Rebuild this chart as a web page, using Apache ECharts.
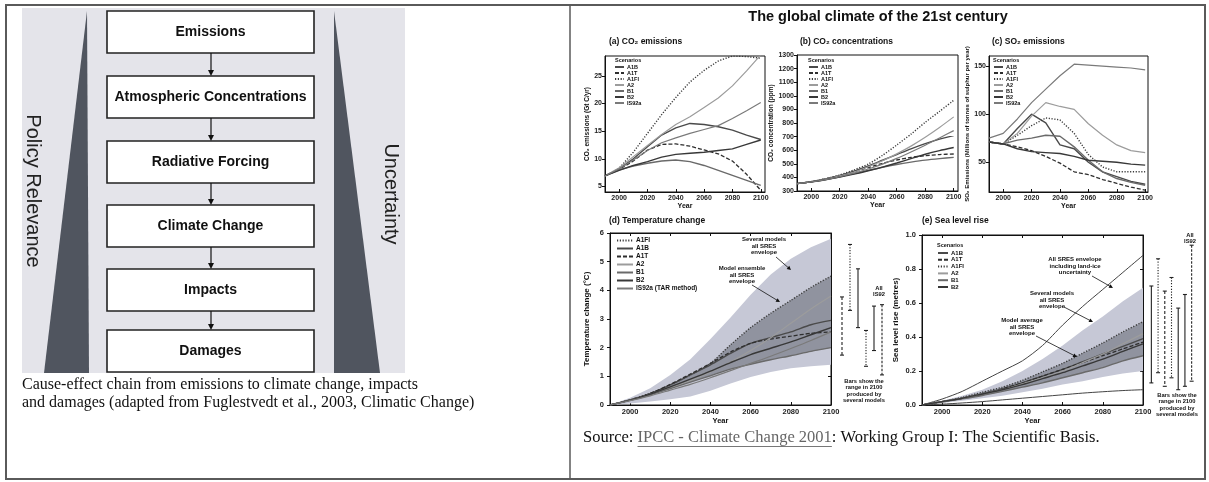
<!DOCTYPE html>
<html>
<head>
<meta charset="utf-8">
<script src="https://cdn.jsdelivr.net/npm/echarts@6/dist/echarts.min.js"></script>
<style>
  html, body { margin: 0; padding: 0; background: #fff; }
  #main { width: 1209px; height: 482px; }
</style>
</head>
<body>
<div id="main"></div>
<script>
// ---- data ----
const years = [1990, 2000, 2010, 2020, 2030, 2040, 2050, 2060, 2070, 2080, 2090, 2100];
const yearTicks = [2000, 2020, 2040, 2060, 2080, 2100];

// (a) CO2 emissions, Gt C/yr
const emA1B   = [6.9, 8.2, 10.0, 12.2, 14.3, 15.6, 16.4, 16.2, 15.8, 15.2, 14.3, 13.5];
const emA1T   = [6.9, 8.1, 9.6, 11.6, 12.6, 12.7, 12.3, 11.6, 10.9, 9.6, 7.2, 4.3];
const emA1FI  = [6.9, 8.3, 11.2, 14.6, 18.0, 21.1, 23.9, 26.0, 27.7, 28.6, 28.5, 28.2];
const emA2    = [6.9, 8.4, 10.4, 12.4, 14.4, 16.2, 17.6, 19.3, 21.0, 23.2, 25.9, 28.8];
const emB1    = [6.9, 8.0, 8.7, 9.2, 9.6, 9.8, 9.5, 8.8, 7.9, 7.0, 6.1, 5.2];
const emB2    = [6.9, 7.9, 8.8, 9.5, 10.3, 10.8, 11.0, 11.2, 11.5, 11.8, 12.6, 13.4];
const emIS92a = [6.9, 8.2, 9.8, 11.5, 12.9, 13.8, 14.6, 15.3, 16.0, 17.3, 18.7, 20.2];
const emTicks = [5, 10, 15, 20, 25];

// (b) CO2 concentrations, ppm
const ppmA1B   = [354, 368, 388, 414, 446, 484, 526, 568, 610, 648, 681, 707];
const ppmA1T   = [354, 368, 388, 412, 441, 472, 503, 528, 547, 560, 568, 572];
const ppmA1FI  = [354, 369, 390, 418, 455, 498, 562, 638, 718, 805, 885, 967];
const ppmA2    = [354, 368, 387, 411, 440, 478, 522, 573, 630, 695, 767, 845];
const ppmB1    = [354, 367, 384, 405, 428, 452, 475, 495, 512, 527, 538, 547];
const ppmB2    = [354, 367, 383, 402, 424, 449, 476, 506, 538, 570, 597, 620];
const ppmIS92a = [354, 367, 384, 405, 431, 462, 498, 540, 587, 637, 690, 744];
const ppmTicks = [300, 400, 500, 600, 700, 800, 900, 1000, 1100, 1200, 1300];

// (c) SO2 emissions, millions of tonnes of sulphur per year
const soA1B   = [71, 69, 85, 100, 91, 68, 64, 50, 40, 35, 30, 27];
const soA1T   = [71, 69, 66, 62, 56, 49, 40, 37, 32, 28, 24, 21];
const soA1FI  = [71, 69, 78, 88, 96, 94, 80, 58, 45, 40, 40, 40];
const soA2    = [71, 69, 80, 98, 112, 108, 105, 90, 78, 68, 62, 60];
const soB1    = [71, 69, 73, 75, 78, 77, 66, 52, 40, 33, 29, 26];
const soB2    = [71, 69, 64, 61, 60, 59, 56, 52, 51, 50, 48, 47];
const soIS92a = [75, 80, 95, 112, 126, 140, 152, 151, 150, 149, 148, 146];
const soTicks = [50, 100, 150];

// (d) temperature change, deg C
const tA1FI  = [0, 0.18, 0.4, 0.7, 1.05, 1.45, 2.1, 2.7, 3.2, 3.65, 4.1, 4.5];
const tA1B   = [0, 0.18, 0.4, 0.7, 1.05, 1.4, 1.8, 2.15, 2.35, 2.55, 2.8, 2.95];
const tA1T   = [0, 0.18, 0.4, 0.72, 1.08, 1.45, 1.85, 2.15, 2.3, 2.4, 2.5, 2.55];
const tA2    = [0, 0.17, 0.37, 0.6, 0.85, 1.15, 1.5, 1.9, 2.35, 2.85, 3.35, 3.8];
const tB1    = [0, 0.16, 0.35, 0.57, 0.8, 1.02, 1.25, 1.42, 1.58, 1.72, 1.87, 2.0];
const tB2    = [0, 0.17, 0.38, 0.63, 0.9, 1.18, 1.48, 1.76, 1.98, 2.2, 2.45, 2.7];
const tIS92a = [0, 0.15, 0.32, 0.52, 0.72, 0.95, 1.2, 1.45, 1.7, 1.97, 2.25, 2.55];
const tModelsHigh = [0, 0.25, 0.58, 1.05, 1.6, 2.3, 3.05, 3.85, 4.55, 5.1, 5.5, 5.8];
const tModelsLow  = [0, 0.05, 0.12, 0.2, 0.3, 0.5, 0.75, 0.98, 1.15, 1.28, 1.35, 1.4];
const tTicks = [0, 1, 2, 3, 4, 5, 6];
const tBarLow  = [1.74, 3.3, 2.7, 1.35, 1.9, 1.05];
const tBarHigh = [3.77, 5.6, 4.75, 2.6, 3.45, 3.5];

// (e) sea level rise, metres
const slA1B  = [0, 0.02, 0.04, 0.065, 0.095, 0.13, 0.17, 0.21, 0.255, 0.3, 0.345, 0.39];
const slA1T  = [0, 0.02, 0.04, 0.065, 0.095, 0.13, 0.17, 0.21, 0.25, 0.29, 0.33, 0.37];
const slA1FI = [0, 0.02, 0.045, 0.075, 0.105, 0.145, 0.195, 0.245, 0.305, 0.365, 0.43, 0.49];
const slA2   = [0, 0.02, 0.04, 0.065, 0.09, 0.125, 0.16, 0.2, 0.25, 0.3, 0.36, 0.42];
const slB1   = [0, 0.018, 0.036, 0.056, 0.08, 0.105, 0.13, 0.16, 0.19, 0.22, 0.26, 0.29];
const slB2   = [0, 0.02, 0.04, 0.065, 0.09, 0.12, 0.155, 0.19, 0.23, 0.27, 0.315, 0.36];
const slIceHigh    = [0, 0.035, 0.08, 0.14, 0.2, 0.26, 0.35, 0.47, 0.58, 0.68, 0.78, 0.88];
const slIceLow     = [0, 0.005, 0.012, 0.02, 0.03, 0.04, 0.05, 0.06, 0.07, 0.078, 0.085, 0.09];
const slModelsHigh = [0, 0.025, 0.055, 0.09, 0.14, 0.2, 0.27, 0.35, 0.44, 0.52, 0.61, 0.69];
const slModelsLow  = [0, 0.012, 0.025, 0.04, 0.055, 0.075, 0.095, 0.12, 0.14, 0.165, 0.185, 0.2];
const slTicks = [0, 0.2, 0.4, 0.6, 0.8, 1.0];
const slBarLow  = [0.13, 0.19, 0.11, 0.16, 0.09, 0.11, 0.14];
const slBarHigh = [0.70, 0.86, 0.67, 0.75, 0.57, 0.65, 0.94];

// ---- styles ----
const SANS = 'Liberation Sans, Arial, sans-serif';
const SERIF = 'Liberation Serif, Times New Roman, serif';
const scenStyle = {
  'A1B':   { c: '#4a4a4a', w: 1.4, t: 'solid' },
  'A1T':   { c: '#2e2e2e', w: 1.3, t: [4, 2] },
  'A1FI':  { c: '#3a3a3a', w: 1.4, t: [1.2, 1.6] },
  'A2':    { c: '#9c9c9c', w: 1.2, t: 'solid' },
  'B1':    { c: '#6a6a6a', w: 1.4, t: 'solid' },
  'B2':    { c: '#383838', w: 1.4, t: 'solid' },
  'IS92a': { c: '#7a7a7a', w: 1.2, t: 'solid' }
};

function scen(gi, name, vals, smooth, styleKey) {
  const st = scenStyle[styleKey || name];
  return {
    type: 'line', name: name, xAxisIndex: gi, yAxisIndex: gi,
    data: years.map((y, i) => [y, vals[i]]),
    symbol: 'none', smooth: smooth ? 0.25 : false, clip: true, z: 5,
    lineStyle: { color: st.c, width: st.w, type: st.t },
    itemStyle: { color: st.c },
    emphasis: { disabled: true }
  };
}

function band(gi, upper, lower, fill, z) {
  return {
    type: 'custom', xAxisIndex: gi, yAxisIndex: gi, clip: true, silent: true, z: z,
    data: [[years[0], lower[0]]],
    renderItem: function (params, api) {
      const pts = years.map((y, i) => api.coord([y, upper[i]]));
      for (let i = years.length - 1; i >= 0; i--) pts.push(api.coord([years[i], lower[i]]));
      return { type: 'polygon', shape: { points: pts }, style: { fill: fill } };
    }
  };
}

function edge(gi, vals) {
  return {
    type: 'line', xAxisIndex: gi, yAxisIndex: gi, data: years.map((y, i) => [y, vals[i]]),
    symbol: 'none', smooth: 0.25, z: 4, lineStyle: { color: '#444', width: 1 }, emphasis: { disabled: true }
  };
}

function rangeBars(gi, low, high, dashes) {
  return {
    type: 'custom', xAxisIndex: gi, yAxisIndex: gi, clip: false, silent: true, z: 5,
    data: low.map((l, i) => [i, l, high[i]]),
    renderItem: function (params, api) {
      const top = api.coord([api.value(0), api.value(2)]);
      const bot = api.coord([api.value(0), api.value(1)]);
      const solid = { stroke: '#222', lineWidth: 1.1 };
      return {
        type: 'group', children: [
          { type: 'line', shape: { x1: top[0], y1: top[1], x2: bot[0], y2: bot[1] },
            style: { stroke: '#222', lineWidth: 1.1, lineDash: dashes[params.dataIndex] } },
          { type: 'line', shape: { x1: top[0] - 2, y1: top[1], x2: top[0] + 2, y2: top[1] }, style: solid },
          { type: 'line', shape: { x1: bot[0] - 2, y1: bot[1], x2: bot[0] + 2, y2: bot[1] }, style: solid }
        ]
      };
    }
  };
}

function xAx(gi, min, max, fs, gap, pos) {
  const main = pos !== 'top';
  return {
    type: 'value', gridIndex: gi, min: min, max: max, position: pos || 'bottom',
    name: main ? 'Year' : '', nameLocation: 'middle', nameGap: gap,
    nameTextStyle: { fontSize: fs, fontWeight: 'bold', color: '#111', fontFamily: SANS },
    axisLine: { show: true, onZero: false, lineStyle: { color: '#111', width: 1 } },
    axisTick: { show: true, inside: true, length: 3, customValues: yearTicks, lineStyle: { color: '#111' } },
    axisLabel: { show: main, customValues: yearTicks, fontSize: fs, fontWeight: 'bold', color: '#222', margin: 3,
      fontFamily: SANS, formatter: v => String(v) },
    splitLine: { show: false }
  };
}

function yAx(gi, min, max, ticks, fs, name, nameFs, gap, margin, fmt, pos) {
  const main = pos !== 'right';
  return {
    type: 'value', gridIndex: gi, min: min, max: max, position: pos || 'left',
    name: main ? name : '', nameLocation: 'middle', nameGap: gap, nameRotate: 90,
    nameTextStyle: { fontSize: nameFs, fontWeight: 'bold', color: '#111', fontFamily: SANS },
    axisLine: { show: true, onZero: false, lineStyle: { color: '#111', width: 1 } },
    axisTick: { show: true, inside: !main, length: 3, customValues: ticks, lineStyle: { color: '#111' } },
    axisLabel: { show: main, customValues: ticks, fontSize: fs, fontWeight: 'bold', color: '#222', margin: margin,
      fontFamily: SANS, formatter: fmt || (v => String(v)) },
    splitLine: { show: false }
  };
}

function hiddenAx(gi, type, extra) {
  return Object.assign({ type: type, gridIndex: gi, show: false }, extra);
}

function legend(left, top, names, fs, lh, gap, iw) {
  return {
    left: left, top: top, orient: 'vertical', padding: 0, itemGap: gap, itemWidth: iw, itemHeight: 4,
    selectedMode: false, data: names,
    itemStyle: { opacity: 0, borderWidth: 0 },
    textStyle: { fontSize: fs, lineHeight: lh, fontWeight: 'bold', color: '#111', fontFamily: SANS, padding: [0, 0, 0, -2] }
  };
}

// ---- graphic helpers ----
function txt(x, y, text, opt) {
  return Object.assign({
    type: 'text', x: x, y: y, z: 100,
    style: Object.assign({ text: text, fill: '#111', fontFamily: SANS, fontSize: 7, fontWeight: 'bold',
      align: 'center', verticalAlign: 'middle' }, opt || {})
  });
}
function arrow(x1, y1, x2, y2, lw, head) {
  const a = Math.atan2(y2 - y1, x2 - x1), h = head || 4, w = h * 0.5;
  return [
    { type: 'line', z: 100, shape: { x1: x1, y1: y1, x2: x2 - h * 0.6 * Math.cos(a), y2: y2 - h * 0.6 * Math.sin(a) },
      style: { stroke: '#111', lineWidth: lw || 0.8 } },
    { type: 'polygon', z: 100, shape: { points: [[x2, y2],
      [x2 - h * Math.cos(a) + w * Math.sin(a), y2 - h * Math.sin(a) - w * Math.cos(a)],
      [x2 - h * Math.cos(a) - w * Math.sin(a), y2 - h * Math.sin(a) + w * Math.cos(a)]] },
      style: { fill: '#111' } }
  ];
}

const chainSteps = ['Emissions', 'Atmospheric Concentrations', 'Radiative Forcing', 'Climate Change', 'Impacts', 'Damages'];
const boxTops = [11, 76, 141, 205, 269, 330];

const g = [];
// frame
g.push({ type: 'rect', z: 0, shape: { x: 6, y: 5, width: 1199, height: 474 }, style: { fill: 'none', stroke: '#5a5a5a', lineWidth: 2 } });
g.push({ type: 'line', z: 0, shape: { x1: 570, y1: 5, x2: 570, y2: 479 }, style: { stroke: '#5a5a5a', lineWidth: 1.5 } });

// left panel: cause-effect chain
g.push({ type: 'rect', z: 1, shape: { x: 22, y: 8, width: 383, height: 365 }, style: { fill: '#e4e4ea' } });
g.push({ type: 'polygon', z: 2, shape: { points: [[87, 11], [44, 373], [89, 373]] }, style: { fill: '#50555f' } });
g.push({ type: 'polygon', z: 2, shape: { points: [[334, 11], [334, 373], [380, 373]] }, style: { fill: '#50555f' } });
chainSteps.forEach((s, i) => {
  g.push({ type: 'rect', z: 3, shape: { x: 107, y: boxTops[i], width: 207, height: 42 },
    style: { fill: '#fff', stroke: '#222', lineWidth: 1.6 } });
  g.push(txt(210.5, boxTops[i] + 21, s, { fontSize: 14 }));
  if (i < chainSteps.length - 1) {
    arrow(211, boxTops[i] + 42, 211, boxTops[i + 1], 1.2, 6).forEach(e => g.push(e));
  }
});
g.push(Object.assign(txt(0, 0, 'Policy Relevance', { fontSize: 20, fontWeight: 'normal', fill: '#222' }), { x: 33, y: 191, rotation: -Math.PI / 2 }));
g.push(Object.assign(txt(0, 0, 'Uncertainty', { fontSize: 20, fontWeight: 'normal', fill: '#222' }), { x: 391, y: 194, rotation: -Math.PI / 2 }));
g.push(txt(22, 385, 'Cause-effect chain from emissions to climate change, impacts', { fontFamily: SERIF, fontSize: 16, fontWeight: 'normal', align: 'left' }));
g.push(txt(22, 403, 'and damages (adapted from Fuglestvedt et al., 2003, Climatic Change)', { fontFamily: SERIF, fontSize: 16, fontWeight: 'normal', align: 'left' }));

// right panel titles
g.push(txt(878, 17, 'The global climate of the 21st century', { fontSize: 14.5 }));
g.push(txt(609, 42, '(a) CO\u2082 emissions', { fontSize: 8.5, align: 'left' }));
g.push(txt(800, 42, '(b) CO\u2082 concentrations', { fontSize: 8.5, align: 'left' }));
g.push(txt(992, 42, '(c) SO\u2082 emissions', { fontSize: 8.5, align: 'left' }));
g.push(txt(609, 221, '(d) Temperature change', { fontSize: 8.5, align: 'left' }));
g.push(txt(922, 221, '(e) Sea level rise', { fontSize: 8.5, align: 'left' }));
[[615, 60], [808, 60], [993, 60], [937, 245]].forEach(p => g.push(txt(p[0], p[1], 'Scenarios', { fontSize: 5.5, align: 'left' })));

// annotations (d)
g.push(txt(764, 246, 'Several models\nall SRES\nenvelope', { fontSize: 6, lineHeight: 6.5 }));
arrow(776, 257, 791, 270).forEach(e => g.push(e));
g.push(txt(742, 275, 'Model ensemble\nall SRES\nenvelope', { fontSize: 6, lineHeight: 6.5 }));
arrow(752, 285, 780, 302).forEach(e => g.push(e));
g.push(txt(864, 391, 'Bars show the\nrange in 2100\nproduced by\nseveral models', { fontSize: 5.8, lineHeight: 6.3 }));
g.push(txt(879, 291, 'All\nIS92', { fontSize: 5.8, lineHeight: 6 }));
// annotations (e)
g.push(txt(1075, 266, 'All SRES envelope\nincluding land-ice\nuncertainty', { fontSize: 6, lineHeight: 6.5 }));
arrow(1092, 276, 1113, 288).forEach(e => g.push(e));
g.push(txt(1052, 300, 'Several models\nall SRES\nenvelope', { fontSize: 6, lineHeight: 6.5 }));
arrow(1064, 307, 1093, 322).forEach(e => g.push(e));
g.push(txt(1022, 327, 'Model average\nall SRES\nenvelope', { fontSize: 6, lineHeight: 6.5 }));
arrow(1036, 336, 1077, 357).forEach(e => g.push(e));
g.push(txt(1177, 405, 'Bars show the\nrange in 2100\nproduced by\nseveral models', { fontSize: 5.8, lineHeight: 6.3 }));
g.push(txt(1190, 238, 'All\nIS92', { fontSize: 5.8, lineHeight: 6 }));

// source line with underlined link text
const srcA = 'Source: ', srcB = 'IPCC - Climate Change 2001', srcC = ': Working Group I: The Scientific Basis.';
const mc = document.createElement('canvas').getContext('2d');
mc.font = '16.5px "Liberation Serif"';
const wA = mc.measureText(srcA).width, wB = mc.measureText(srcB).width;
const srcOpt = { fontFamily: SERIF, fontSize: 16.5, fontWeight: 'normal', align: 'left' };
g.push(txt(583, 438, srcA, srcOpt));
g.push(txt(583 + wA, 438, srcB, Object.assign({}, srcOpt, { fill: '#666' })));
g.push({ type: 'line', z: 100, shape: { x1: 583 + wA, y1: 446.5, x2: 583 + wA + wB, y2: 446.5 }, style: { stroke: '#777', lineWidth: 1 } });
g.push(txt(583 + wA + wB, 438, srcC, srcOpt));

const scenNames = ['A1B', 'A1T', 'A1FI', 'A2', 'B1', 'B2', 'IS92a'];
const dNames = ['A1FI', 'A1B', 'A1T', 'A2', 'B1', 'B2', 'IS92a (TAR method)'];
const eNames = ['A1B', 'A1T', 'A1FI', 'A2', 'B1', 'B2'];

const option = {
  animation: false,
  backgroundColor: '#fff',
  textStyle: { fontFamily: SANS },
  grid: [
    { left: 605, top: 56, width: 160, height: 136 },
    { left: 797, top: 55, width: 161, height: 136 },
    { left: 989, top: 56, width: 159, height: 136 },
    { left: 610, top: 233, width: 221, height: 172 },
    { left: 922, top: 235, width: 221, height: 170 },
    { left: 838, top: 233, width: 48, height: 172, show: false },
    { left: 1148, top: 235, width: 47, height: 170, show: false }
  ].map(o => Object.assign({ show: true, borderColor: '#111', borderWidth: 1, backgroundColor: 'transparent', outerBoundsMode: 'none' }, o)),
  xAxis: [
    xAx(0, 1990, 2103, 7, 10),
    xAx(1, 1990, 2103, 7, 10),
    xAx(2, 1990, 2102, 7, 10),
    xAx(3, 1990, 2100, 7.5, 9),
    xAx(4, 1990, 2100, 7.5, 9),
    hiddenAx(5, 'category', { data: tBarLow.map((v, i) => i) }),
    hiddenAx(6, 'category', { data: slBarLow.map((v, i) => i) }),
    xAx(3, 1990, 2100, 7.5, 9, 'top'),
    xAx(4, 1990, 2100, 7.5, 9, 'top')
  ],
  yAxis: [
    yAx(0, 4, 28.6, emTicks, 7, 'CO\u2082 emissions (Gt C/yr)', 6.5, 11, 3),
    yAx(1, 300, 1300, ppmTicks, 7, 'CO\u2082 concentration (ppm)', 6.5, 22, 3),
    yAx(2, 19, 160.5, soTicks, 7, 'SO\u2082 Emissions (Millions of tonnes of sulphur per year)', 6, 17, 3),
    yAx(3, 0, 6, tTicks, 7.5, 'Temperature change (\u00b0C)', 8, 19, 6),
    yAx(4, 0, 1, slTicks, 7.5, 'Sea level rise (metres)', 8, 22, 6, v => v.toFixed(1)),
    hiddenAx(5, 'value', { min: 0, max: 6 }),
    hiddenAx(6, 'value', { min: 0, max: 1 }),
    yAx(3, 0, 6, tTicks, 7.5, '', 8, 19, 6, null, 'right'),
    yAx(4, 0, 1, slTicks, 7.5, '', 8, 22, 6, null, 'right')
  ],
  legend: [
    legend(614, 64, scenNames, 5.5, 5.5, 0, 9),
    legend(808, 64, scenNames, 5.5, 5.5, 0, 9),
    legend(993, 64, scenNames, 5.5, 5.5, 0, 9),
    legend(616, 237, dNames, 6.5, 7, 1, 16),
    legend(937, 250, eNames, 6, 6, 0.8, 10)
  ],
  graphic: { elements: g },
  series: [
    // (a)
    scen(0, 'A1B', emA1B), scen(0, 'A1T', emA1T), scen(0, 'A1FI', emA1FI), scen(0, 'A2', emA2),
    scen(0, 'B1', emB1), scen(0, 'B2', emB2), scen(0, 'IS92a', emIS92a),
    // (b)
    scen(1, 'A1B', ppmA1B, true), scen(1, 'A1T', ppmA1T, true), scen(1, 'A1FI', ppmA1FI, true), scen(1, 'A2', ppmA2, true),
    scen(1, 'B1', ppmB1, true), scen(1, 'B2', ppmB2, true), scen(1, 'IS92a', ppmIS92a, true),
    // (c)
    scen(2, 'A1B', soA1B), scen(2, 'A1T', soA1T), scen(2, 'A1FI', soA1FI), scen(2, 'A2', soA2),
    scen(2, 'B1', soB1), scen(2, 'B2', soB2), scen(2, 'IS92a', soIS92a),
    // (d)
    band(3, tModelsHigh, tModelsLow, '#c6c8d6', 1),
    band(3, tA1FI, tB1, '#90939f', 2),
    scen(3, 'A1FI', tA1FI, true), scen(3, 'A1B', tA1B, true), scen(3, 'A1T', tA1T, true), scen(3, 'A2', tA2, true),
    scen(3, 'B1', tB1, true), scen(3, 'B2', tB2, true), scen(3, 'IS92a (TAR method)', tIS92a, true, 'IS92a'),
    rangeBars(5, tBarLow, tBarHigh, [[3, 2], [1.2, 1.6], null, [1.2, 1.6], null, [2.5, 1.5]]),
    // (e)
    band(4, slModelsHigh, slModelsLow, '#c6c8d6', 1),
    band(4, slA1FI, slB1, '#90939f', 2),
    edge(4, slIceHigh), edge(4, slIceLow),
    scen(4, 'A1B', slA1B, true), scen(4, 'A1T', slA1T, true), scen(4, 'A1FI', slA1FI, true), scen(4, 'A2', slA2, true),
    scen(4, 'B1', slB1, true), scen(4, 'B2', slB2, true),
    rangeBars(6, slBarLow, slBarHigh, [null, [1.2, 1.6], [3, 2], [1.2, 1.6], null, null, [2.5, 1.5]])
  ]
};

const chart = echarts.init(document.getElementById('main'), null, { renderer: 'canvas' });
chart.setOption(option);
</script>
</body>
</html>
